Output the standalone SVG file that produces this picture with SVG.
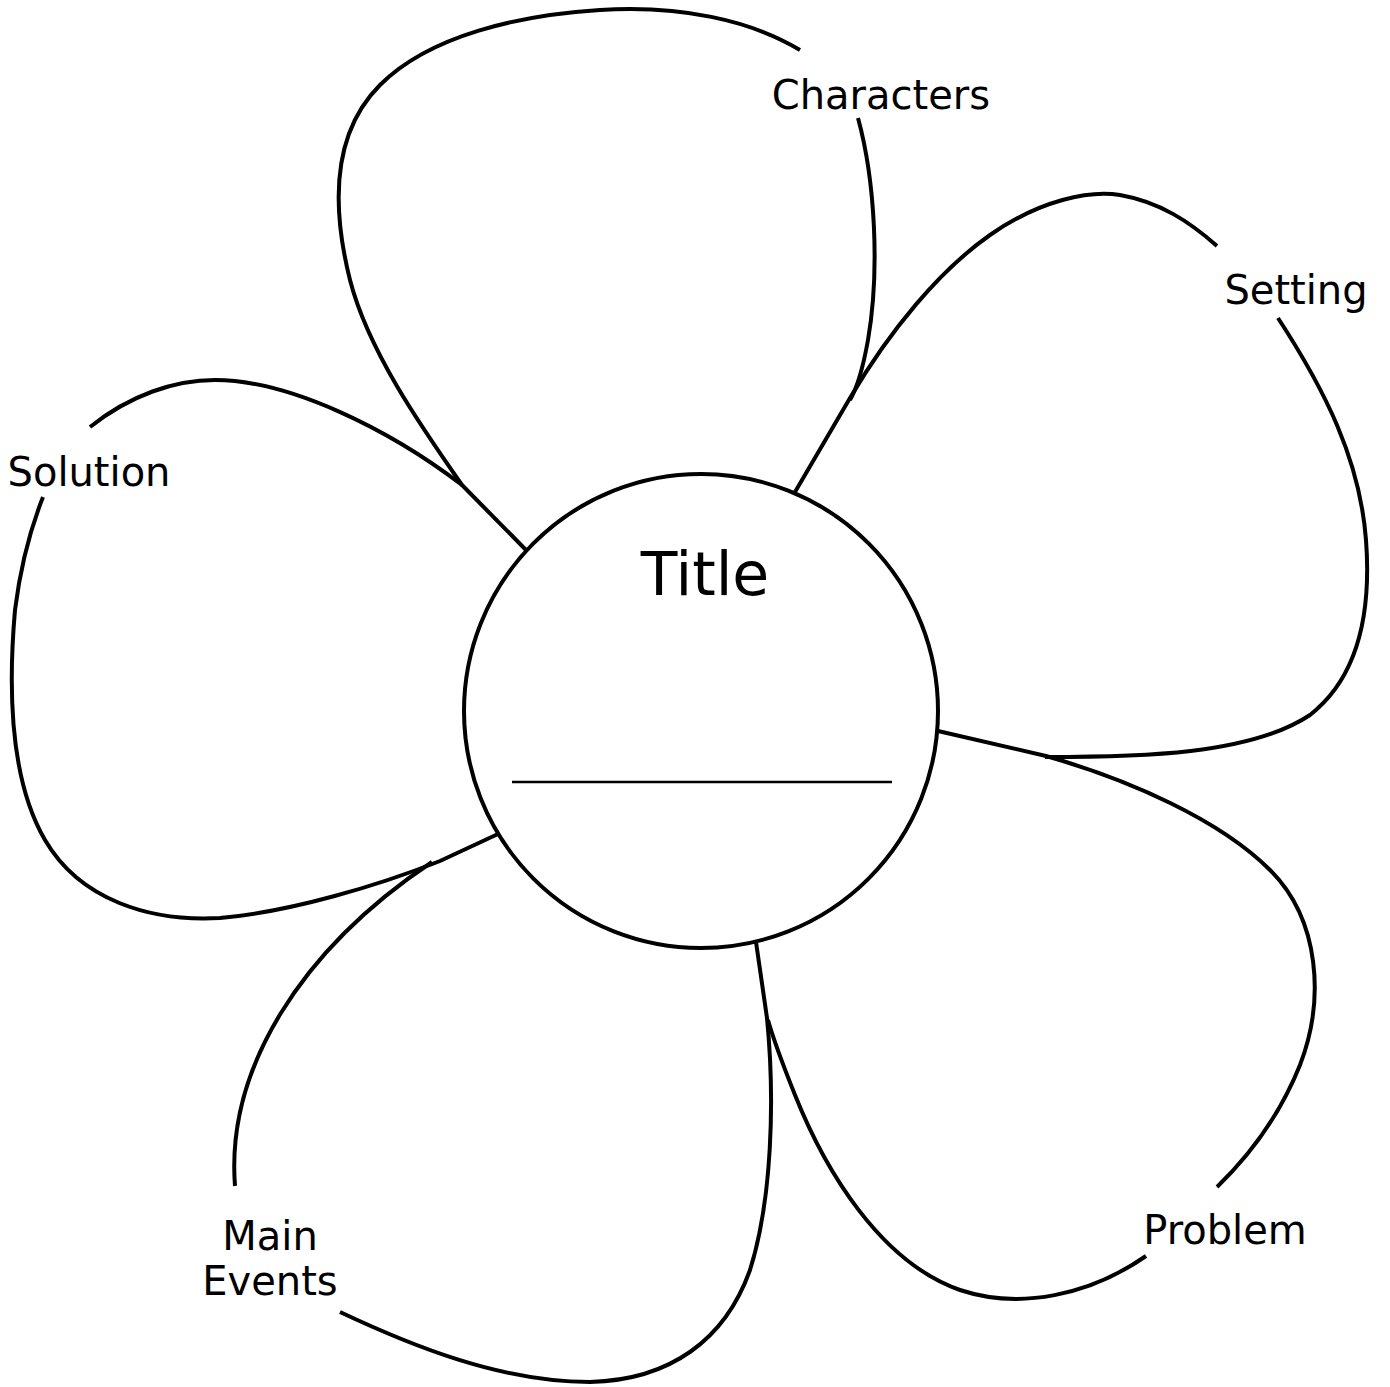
<svg xmlns="http://www.w3.org/2000/svg" width="1390" height="1387" viewBox="0 0 1390 1387">
<style>
.edge{fill:none;stroke:#000;stroke-width:4;stroke-linecap:butt;stroke-linejoin:round}
.lbl{font-family:"DejaVu Sans","Liberation Sans",sans-serif;font-size:40px;fill:#000;text-anchor:middle}
.ttl{font-family:"DejaVu Sans","Liberation Sans",sans-serif;font-size:60px;fill:#000;text-anchor:middle}
</style>
<rect width="1390" height="1387" fill="#fff"/>
<g id="petal-characters">
<path class="edge" d="M526,550 L462,485 C420,425 368,350 350,280 C330,200 335,130 380,85 C430,35 520,15 600,10 C680,5 750,20 800,50"/>
<path class="edge" d="M858,118 C875,180 880,270 868,340 C863,368 857,388 850,400"/>
<text class="lbl" x="881" y="109">Characters</text>
</g>
<g id="petal-setting">
<path class="edge" d="M795,492 L850,398 C890,330 940,270 990,235 C1040,200 1090,190 1120,195 C1160,202 1190,222 1217,246"/>
<path class="edge" d="M1278,318 C1325,390 1360,460 1366,540 C1372,620 1355,680 1310,715 C1250,755 1140,757 1045,757"/>
<text class="lbl" x="1296" y="304">Setting</text>
</g>
<g id="petal-problem">
<path class="edge" d="M938,731 L1046,756 C1130,780 1220,820 1270,870 C1320,920 1325,1000 1300,1065 C1280,1115 1250,1155 1217,1187"/>
<path class="edge" d="M1146,1256 C1090,1295 1020,1310 960,1290 C880,1262 825,1170 795,1095 C785,1070 775,1045 768,1020"/>
<text class="lbl" x="1225" y="1244">Problem</text>
</g>
<g id="petal-main-events">
<path class="edge" d="M756,942 L767,1018 C775,1100 772,1200 750,1270 C725,1340 670,1380 590,1382 C500,1382 410,1345 340,1312"/>
<path class="edge" d="M235,1186 C226,1070 300,950 432,862"/>
<text class="lbl" x="270" y="1250">Main</text>
<text class="lbl" x="270" y="1295">Events</text>
</g>
<g id="petal-solution">
<path class="edge" d="M498,834 L440,861 C380,885 290,912 220,918 C150,922 80,900 45,840 C10,780 8,690 15,610 C20,570 30,530 43,497"/>
<path class="edge" d="M90,427 C130,395 175,380 215,380 C290,380 390,430 462,485"/>
<text class="lbl" x="89" y="486">Solution</text>
</g>
<g id="center-title">
<circle cx="701" cy="711" r="237" fill="#fff" stroke="#000" stroke-width="4"/>
<text class="ttl" x="705" y="595">Title</text>
<line x1="512" y1="782" x2="892" y2="782" stroke="#000" stroke-width="2.5"/>
</g>
</svg>
